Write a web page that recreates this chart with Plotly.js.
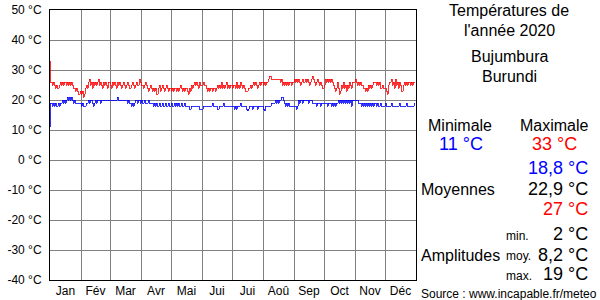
<!DOCTYPE html>
<html>
<head>
<meta charset="utf-8">
<script src="https://cdn.plot.ly/plotly-3.0.1.min.js"></script>
<style>html,body{margin:0;padding:0;background:#fff}#chart{width:600px;height:300px}
.scatterlayer path.js-line{shape-rendering:crispEdges}</style>
</head>
<body>
<div id="chart"></div>
<script>
// Month labels and month lengths (2020, leap year)
const monthLabels = ["Jan","Fév","Mar","Avr","Mai","Jui","Jui","Aoû","Sep","Oct","Nov","Déc"];
const monthDays = [31,29,31,30,31,30,31,31,30,31,30,31];

// Daily maximum temperatures (°C)
const tmax = [
  33,26,26,25,26, 25,24,25,24,24, 25,26,25,26,25, 26,26,25,26,25, 26,25,26,25,24, 24,23,24,23,22, 22,
  23,22,23,21,22, 24,25,24,26,27, 25,26,24,26,25, 26,25,26,27,25, 26,25,24,26,25, 26,25,24,26,
  26,25,24,26,25, 26,25,24,26,25, 26,25,24,25,26, 25,24,25,26,25, 24,24,25,26,25, 24,25,26,25,25, 27,
  26,25,25,24,25, 26,25,24,23,24, 25,24,23,24,23, 24,22,22,24,25, 23,24,25,24,23, 24,25,24,23,24,
  24,23,24,23,24, 24,23,24,23,24, 25,24,23,24,23, 24,24,23,22,24, 23,25,24,25,26, 25,26,25,24,26, 25,
  25,25,26,25,25, 24,23,24,23,24, 24,23,24,24,23, 24,25,24,25,24, 26,24,25,24,25, 26,24,25,24,25,
  25,24,25,25,24, 26,24,25,24,26, 25,24,25,24,23, 23,23,24,24,25, 24,25,26,25,26, 25,24,25,26,25, 26,
  26,25,26,25,26, 26,27,28,28,27, 27,27,27,27,27, 27,27,27,26,27, 25,26,25,26,25, 26,25,26,26,25, 26,
  26,27,26,27,26, 27,26,25,26,27, 26,26,27,26,27, 26,25,26,27,28, 27,26,25,26,27, 26,25,26,25,24,
  24,25,27,26,27, 26,27,26,27,26, 25,24,23,24,26, 24,22,23,25,24, 26,24,25,23,25, 24,26,25,24,26, 26,
  26,27,26,25,26, 25,26,25,25,24, 24,23,24,23,25, 24,25,24,25,26, 26,26,25,26,25, 26,24,24,25,24,
  24,24,23,22,25, 26,26,27,25,26, 24,27,25,26,24, 26,25,23,23,25, 26,25,26,25,26, 26,25,26,25,26, 26
];

// Daily minimum temperatures (°C)
const tmin = [
  11,19,19,18,19, 18,19,18,18,19, 18,19,19,20,19, 20,19,20,21,20, 21,20,21,20,19, 20,19,19,19,19, 19,
  19,18,19,18,18, 18,19,19,20,19, 20,20,19,18,19, 20,19,20,20,20, 19,20,20,20,20, 20,20,20,20,
  20,20,20,20,20, 20,20,20,21,20, 20,20,20,20,20, 20,20,20,19,20, 19,19,18,19,18, 19,20,20,19,20, 20,
  19,20,19,19,20, 19,19,19,20,19, 19,19,19,18,19, 18,19,18,18,19, 18,18,19,18,18, 19,18,18,19,18,
  18,19,18,18,19, 18,19,18,19,18, 18,19,18,18,19, 18,18,18,18,17, 17,18,18,18,18, 18,18,18,18,17, 17,
  17,17,18,18,18, 18,18,18,18,18, 18,19,18,18,18, 18,17,17,18,18, 18,18,19,18,18, 18,18,18,18,18,
  18,18,18,17,18, 17,18,18,18,19, 18,18,18,18,18, 17,16.5,17,18,18, 18,17,18,18,18, 18,17,18,18,18, 18,
  18,17,16.5,18,18, 18,18,18,18,19, 19,19,19,20,19, 20,19,20,20,21, 21,20,19,18,19, 18,19,18,18,18, 18,
  18,18,18,17,18, 20,19,20,20,19, 20,20,20,20,20, 19,20,20,20,19, 19,19,19,18,19, 19,19,18,19,19,
  19,19,19,19,18, 19,19,19,18,19, 18,19,18,19,19, 20,19,20,19,20, 19,20,19,20,19, 20,19,20,18,20, 20,
  20,20,20,20,19, 19,19,18,19,18, 19,18,19,18,19, 18,19,18,19,18, 19,19,18,19,18, 18,19,18,18,18,
  18,19,18,18,18, 18,18,19,18,18, 18,18,18,18,18, 19,18,18,18,18, 18,18,19,18,18, 18,18,18,18,18, 19
];

// Y tick values / labels
const yTickVals = [50,40,30,20,10,0,-10,-20,-30,-40];
const yTickLabels = ["50 °C","40 °C","30 °C","20 °C","10 °C","0 °C","-10 °C","-20 °C","-30 °C","-40 °C"];

// Summary texts
const titleLines = ["Températures de","l'année 2020","Bujumbura","Burundi"];
const extremeLabels = ["Minimale","Maximale"];
const extremeValues = ["11 °C","33 °C"];
const means = ["18,8 °C","22,9 °C","27 °C"];
const amplitudes = ["2 °C","8,2 °C","19 °C"];
const ampLabels = ["min.","moy.","max."];
const sourceText = "Source : www.incapable.fr/meteo";

// derived positions
const monthStarts = [0];
monthDays.forEach(function(d,i){ monthStarts.push(monthStarts[i] + d); });
const totalDays = monthStarts[12];
const monthMids = monthDays.map(function(d,i){ return monthStarts[i] + d/2; });
const monthBounds = monthStarts.slice(1, 12);
const days = tmax.map(function(_, i){ return i; });

const FONT = "Liberation Sans, Arial, sans-serif";
const L = 50, R = 184, T = 10, B = 20, W = 600, H = 300;
const PW = W - L - R, PH = H - T - B;
function px(x){ return (x - L) / PW; }
function py(y){ return (H - B - y) / PH; }
function ann(text, x, y, size, color, xanchor){
  return {text: text, x: px(x), y: py(y), xref: 'paper', yref: 'paper',
    xanchor: xanchor || 'center', yanchor: 'middle', showarrow: false,
    font: {family: FONT, size: size, color: color || '#000'}};
}

const traces = [
  {x: days, y: tmax, type: 'scatter', mode: 'lines', line: {color: '#ff0000', width: 0.8, shape: 'vh'}, hoverinfo: 'skip'},
  {x: days, y: tmin, type: 'scatter', mode: 'lines', line: {color: '#0000ff', width: 0.8, shape: 'vh'}, hoverinfo: 'skip'}
];

const annotations = [
  ann(titleLines[0], 509, 10, 16),
  ann(titleLines[1], 509, 30, 16),
  ann(titleLines[2], 509, 57, 16),
  ann(titleLines[3], 509, 77, 16),
  ann(extremeLabels[0], 460, 125, 16),
  ann(extremeLabels[1], 554, 125, 16),
  ann(extremeValues[0], 461, 144, 18, '#0000ff'),
  ann(extremeValues[1], 554, 144, 18, '#ff0000'),
  ann(means[0], 590, 168, 18, '#0000ff', 'right'),
  ann("Moyennes", 419, 189, 16, '#000', 'left'),
  ann(means[1], 590, 189, 18, '#000', 'right'),
  ann(means[2], 590, 209, 18, '#ff0000', 'right'),
  ann(ampLabels[0], 504, 236, 12, '#000', 'left'),
  ann(amplitudes[0], 590, 234, 18, '#000', 'right'),
  ann("Amplitudes", 419, 255, 16, '#000', 'left'),
  ann(ampLabels[1], 504, 256, 12, '#000', 'left'),
  ann(amplitudes[1], 590, 255, 18, '#000', 'right'),
  ann(ampLabels[2], 504, 276, 12, '#000', 'left'),
  ann(amplitudes[2], 590, 274, 18, '#000', 'right'),
  ann(sourceText, 419, 294, 12, '#000', 'left')
];

const layout = {
  width: W, height: H,
  margin: {l: L, r: R, t: T, b: B, pad: 0},
  paper_bgcolor: '#fff', plot_bgcolor: '#fff',
  showlegend: false,
  font: {family: FONT, size: 12, color: '#000'},
  xaxis: {
    range: [0, totalDays], fixedrange: true,
    tickmode: 'array', tickvals: monthMids, ticktext: monthLabels,
    ticks: '', showgrid: false, zeroline: false,
    showline: true, linecolor: '#000', linewidth: 1, mirror: true,
    tickfont: {family: FONT, size: 12, color: '#000'},
    minor: {tickmode: 'array', tickvals: monthBounds, showgrid: true, gridcolor: '#808080', gridwidth: 1, ticks: ''}
  },
  yaxis: {
    range: [-40, 50], fixedrange: true,
    tickmode: 'array', tickvals: yTickVals, ticktext: yTickLabels,
    ticks: '', showgrid: true, gridcolor: '#808080', gridwidth: 1, zeroline: false,
    showline: true, linecolor: '#000', linewidth: 1, mirror: true,
    ticklabelstandoff: 5,
    tickfont: {family: FONT, size: 12, color: '#000'}
  },
  annotations: annotations
};

Plotly.newPlot('chart', traces, layout, {staticPlot: true, displayModeBar: false});
</script>
</body>
</html>
